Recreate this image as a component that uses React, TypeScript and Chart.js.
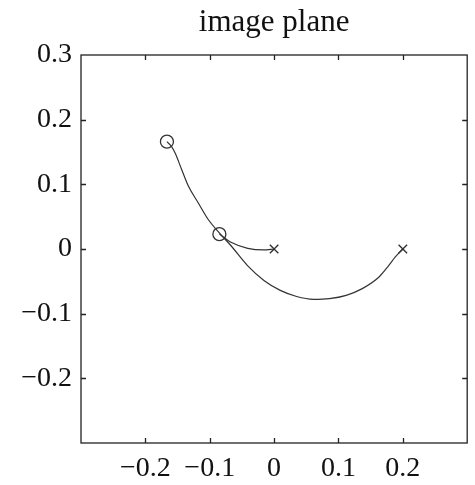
import React, { useEffect, useRef } from "react";
import { Chart, registerables } from "chart.js";

Chart.register(...registerables);

// Trajectory 1: from start (0.2, 0) to end circle (-0.166, 0.166)
const traj1X = [0.2, 0.188, 0.178, 0.163, 0.137, 0.112, 0.086, 0.061, 0.035, 0.0096, -0.0158, -0.0413, -0.0669, -0.0847, -0.1026, -0.118, -0.133, -0.1435, -0.1536, -0.159, -0.1665];
const traj1Y = [0.0, -0.0127, -0.0256, -0.0433, -0.0613, -0.0716, -0.0767, -0.0778, -0.0735, -0.064, -0.0486, -0.0256, 0.005, 0.0245, 0.046, 0.0716, 0.097, 0.1227, 0.148, 0.158, 0.166];

// Trajectory 2: from start (0, 0) to end circle (-0.085, 0.023)
const traj2X = [0.0, -0.0158, -0.041, -0.067, -0.085];
const traj2Y = [0.0, -0.0015, 0.001, 0.0103, 0.023];

// Start markers (crosses) and end markers (circles)
const startX = [0.2, 0.0];
const startY = [0.0, 0.0];
const endX = [-0.1665, -0.085];
const endY = [0.166, 0.023];

const xTickValues = [-0.3, -0.2, -0.1, 0, 0.1, 0.2, 0.3];
const yTickValues = [-0.3, -0.2, -0.1, 0, 0.1, 0.2, 0.3];
const hiddenXLabels = [-0.3, 0.3];
const hiddenYLabels = [-0.3];

const titleText = "image plane";

const toPts = (xs: number[], ys: number[]) => xs.map((x, i) => ({ x, y: ys[i] }));

const fmt = (v: number) => {
  const r = Math.round(v * 10) / 10;
  if (r === 0) return "0";
  return (r < 0 ? "\u2212" : "") + Math.abs(r).toString();
};

const framePlugin = {
  id: "frame",
  afterDraw(chart: any) {
    const { ctx, chartArea: a, scales } = chart;
    ctx.save();
    ctx.strokeStyle = "#222";
    ctx.lineWidth = 1.3;
    ctx.strokeRect(a.left, a.top, a.right - a.left, a.bottom - a.top);
    const L = 5;
    ctx.beginPath();
    xTickValues.forEach((v) => {
      if (Math.abs(v) > 0.29) return;
      const px = Math.round(scales.x.getPixelForValue(v)) + 0.5;
      ctx.moveTo(px, a.bottom);
      ctx.lineTo(px, a.bottom - L);
      ctx.moveTo(px, a.top);
      ctx.lineTo(px, a.top + L);
    });
    yTickValues.forEach((v) => {
      if (Math.abs(v) > 0.29) return;
      const py = Math.round(scales.y.getPixelForValue(v)) + 0.5;
      ctx.moveTo(a.left, py);
      ctx.lineTo(a.left + L, py);
      ctx.moveTo(a.right, py);
      ctx.lineTo(a.right - L, py);
    });
    ctx.stroke();
    ctx.restore();
  },
};

export default function App() {
  const ref = useRef<HTMLCanvasElement | null>(null);

  useEffect(() => {
    if (!ref.current) return;
    const serif = "'Liberation Serif', 'Times New Roman', serif";
    const lineColor = "#333";
    const chart = new Chart(ref.current, {
      type: "scatter",
      data: {
        datasets: [
          {
            data: toPts(traj1X, traj1Y),
            showLine: true,
            borderColor: lineColor,
            borderWidth: 1.2,
            pointRadius: 0,
            cubicInterpolationMode: "monotone",
            fill: false,
          },
          {
            data: toPts(traj2X, traj2Y),
            showLine: true,
            borderColor: lineColor,
            borderWidth: 1.2,
            pointRadius: 0,
            cubicInterpolationMode: "monotone",
            fill: false,
          },
          {
            data: toPts(startX, startY),
            showLine: false,
            pointStyle: "crossRot",
            pointRadius: 6,
            borderColor: lineColor,
            borderWidth: 1.4,
          },
          {
            data: toPts(endX, endY),
            showLine: false,
            pointStyle: "circle",
            pointRadius: 6.5,
            borderColor: lineColor,
            backgroundColor: "rgba(0,0,0,0)",
            borderWidth: 1.3,
          },
        ],
      },
      options: {
        animation: false,
        responsive: true,
        maintainAspectRatio: false,
        layout: { padding: { left: 0, right: 4, top: 0, bottom: 0 } },
        plugins: {
          legend: { display: false },
          tooltip: { enabled: false },
          title: {
            display: true,
            fullSize: false,
            text: titleText,
            color: "#111",
            font: { family: serif, size: 31, weight: "normal" },
            padding: { top: 4, bottom: 13.8 },
          },
        },
        scales: {
          x: {
            type: "linear",
            min: -0.3,
            max: 0.3,
            afterBuildTicks: (s: any) => {
              s.ticks = xTickValues.map((value) => ({ value }));
            },
            afterFit: (s: any) => {
              s.height = 42;
              s.paddingLeft = 0;
              s.paddingRight = 0;
            },
            grid: { display: false, drawTicks: false },
            border: { display: false },
            ticks: {
              padding: 9,
              color: "#111",
              maxRotation: 0,
              autoSkip: false,
              font: { family: serif, size: 28 },
              callback: (v: any) => (hiddenXLabels.some((h) => Math.abs(h - v) < 1e-6) ? "" : fmt(Number(v))),
            },
          },
          y: {
            type: "linear",
            min: -0.3,
            max: 0.3,
            afterBuildTicks: (s: any) => {
              s.ticks = yTickValues.map((value) => ({ value }));
            },
            afterFit: (s: any) => {
              s.width = 81;
            },
            grid: { display: false, drawTicks: false },
            border: { display: false },
            ticks: {
              padding: 9,
              color: "#111",
              autoSkip: false,
              font: { family: serif, size: 28 },
              callback: (v: any) => (hiddenYLabels.some((h) => Math.abs(h - v) < 1e-6) ? "" : fmt(Number(v))),
            },
          },
        },
      },
      plugins: [framePlugin],
    } as any);
    return () => chart.destroy();
  }, []);

  return (
    <div style={{ position: "fixed", left: 0, top: 0, width: 475, height: 485, background: "#fff" }}>
      <canvas ref={ref} />
    </div>
  );
}
